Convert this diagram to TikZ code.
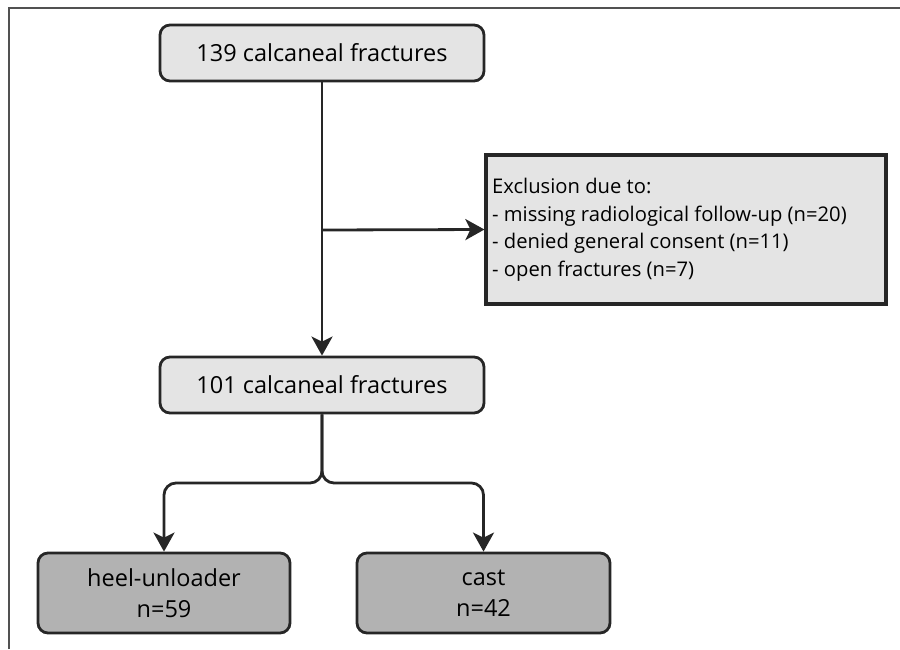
\documentclass[tikz,border=0pt]{standalone}
\usepackage{fontspec}
\setmainfont{Open Sans}
\usetikzlibrary{arrows.meta}
\definecolor{lightbox}{HTML}{E4E4E4}
\definecolor{darkbox}{HTML}{B2B2B2}
\definecolor{ink}{HTML}{262626}
\begin{document}
\begin{tikzpicture}[x=1pt,y=-1pt,
  rbox/.style={draw=ink, line width=2.8pt, rounded corners=10pt, inner sep=0pt, align=center},
  conn/.style={draw=ink, line width=2.8pt, -{Stealth[length=19pt,width=21pt,inset=5pt]}},
]
\useasboundingbox (0,0) rectangle (900,649);
% frame
\draw[ink!80, line width=1.2pt] (9,649) -- (9,8) -- (900,8);
% nodes
\node[rbox, fill=lightbox, minimum width=324pt, minimum height=56pt, font=\fontsize{23.5}{26}\selectfont] (top) at (322,53) {139 calcaneal fractures};
\node[draw=ink, line width=3.2pt, fill=lightbox, minimum width=400pt, minimum height=149pt, inner sep=0pt] (excl) at (686,229.5) {};
\node[anchor=north west, align=left, inner sep=0pt, font=\fontsize{20.2}{27.5}\selectfont] (excltext) at (492,178) {Exclusion due to:\\- missing radiological follow-up (n=20)\\- denied general consent (n=11)\\- open fractures (n=7)};
\node[rbox, fill=lightbox, minimum width=324pt, minimum height=56pt, font=\fontsize{23.5}{26}\selectfont] (mid) at (322,385) {101 calcaneal fractures};
\node[rbox, fill=darkbox, minimum width=252pt, minimum height=80pt, font=\fontsize{23.5}{31}\selectfont] (heel) at (164,593) {heel-unloader\\n=59};
\node[rbox, fill=darkbox, minimum width=253pt, minimum height=80pt, font=\fontsize{23.5}{31}\selectfont] (cast) at (483.5,593) {cast\\n=42};
% connectors
\coordinate (branch) at (322,230);
\draw[conn] (top.south) -- (mid.north);
\draw[conn] (branch) -- (excl.west);
\coordinate (split) at (322,483);
\draw[conn, rounded corners=12pt] (mid.south) -- (split) -| (heel.north);
\draw[conn, rounded corners=12pt] (mid.south) -- (split) -| (cast.north);
\end{tikzpicture}
\end{document}
